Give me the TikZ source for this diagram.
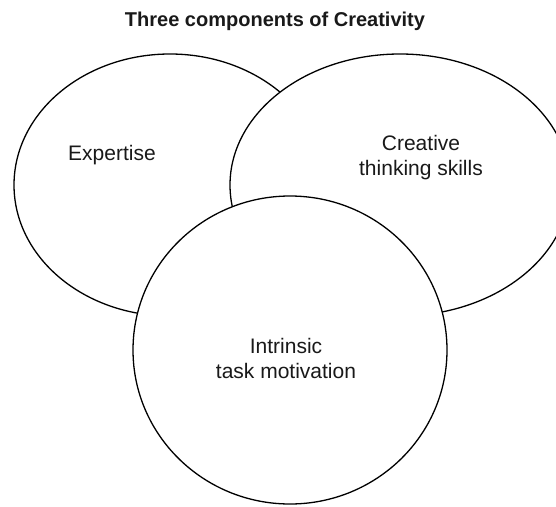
\documentclass[tikz,border=0pt]{standalone}
\usepackage{fontspec}
\setmainfont{Liberation Sans}
\begin{document}
\begin{tikzpicture}[x=1pt,y=-1pt,
  blob/.style={draw=black,line width=1.3pt,fill=white},
  lbl/.style={font=\fontsize{21}{25}\selectfont,align=center,text=black!90}]
\useasboundingbox (0,0) rectangle (556,506);
\node[font=\bfseries\fontsize{20}{24}\selectfont,text=black!90] (title) at (275,21) {Three components of Creativity};
\path[blob] (170,185) ellipse [x radius=156,y radius=131];
\path[blob] (400,185) ellipse [x radius=170,y radius=131];
\path[blob] (290,350) ellipse [x radius=157,y radius=154];
\node[lbl] (exp) at (112,155) {Expertise};
\node[lbl] (cts) at (421,158) {Creative\\thinking skills};
\node[lbl] (itm) at (286,358) {Intrinsic\\task motivation};
\end{tikzpicture}
\end{document}
